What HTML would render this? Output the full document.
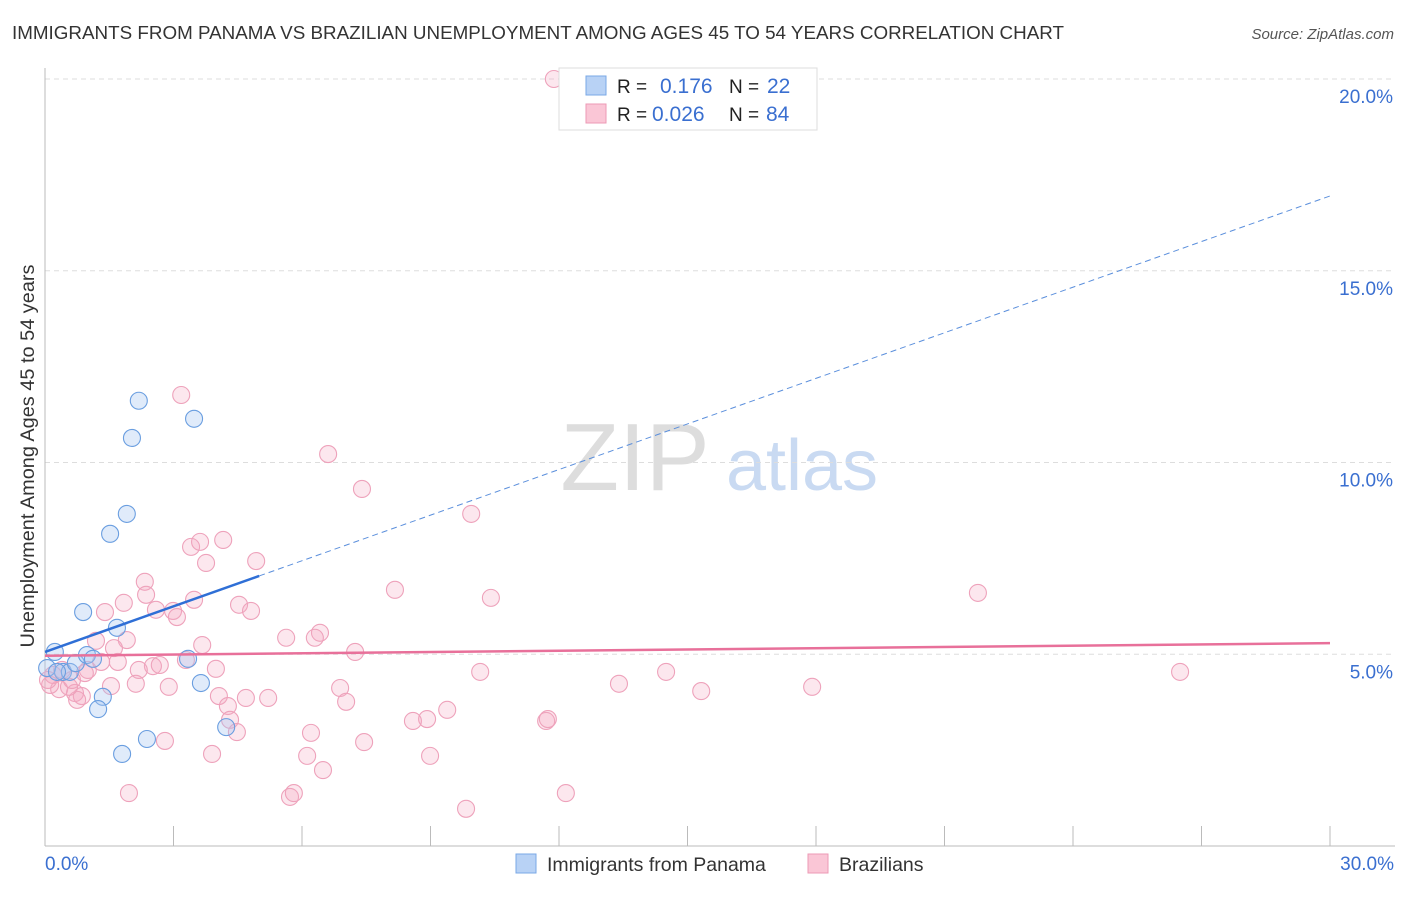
<!DOCTYPE html>
<html><head><meta charset="utf-8"><style>
body{margin:0;background:#fff;font-family:"Liberation Sans",sans-serif}
svg text{font-family:"Liberation Sans",sans-serif}
</style></head><body>
<svg id="chart" width="1406" height="892" xmlns="http://www.w3.org/2000/svg">
<text x="12" y="39" font-size="18.8" fill="#333" textLength="1052" lengthAdjust="spacingAndGlyphs">IMMIGRANTS FROM PANAMA VS BRAZILIAN UNEMPLOYMENT AMONG AGES 45 TO 54 YEARS CORRELATION CHART</text>
<text x="1394" y="39" font-size="15" fill="#555" font-style="italic" text-anchor="end">Source: ZipAtlas.com</text>
<text transform="translate(34,456) rotate(-90)" font-size="19.5" fill="#333" text-anchor="middle" textLength="383" lengthAdjust="spacingAndGlyphs">Unemployment Among Ages 45 to 54 years</text>
<g><text x="635" y="490" font-size="96" fill="#ddd" font-family="Liberation Serif" text-anchor="middle">ZIP</text><text x="802" y="490" font-size="72" fill="#c9daf2" text-anchor="middle">atlas</text></g>
<g id="grid"></g><g id="axes"></g><g id="pts"></g><g id="trend"></g>
<g>
<rect x="559" y="68" width="258" height="62" fill="#fff" stroke="#ddd"/>
<rect x="586" y="76" width="20" height="19" fill="#b8d2f5" stroke="#7aa8e6"/>
<rect x="586" y="104" width="20" height="19" fill="#fac6d6" stroke="#ec9ab5"/>
<text x="617" y="93" font-size="19" fill="#222">R = </text><text x="660" y="93" font-size="21" fill="#3a6fd0">0.176</text>
<text x="729" y="93" font-size="19" fill="#222">N = </text><text x="767" y="93" font-size="21" fill="#3a6fd0">22</text>
<text x="617" y="121" font-size="19" fill="#222">R = </text><text x="652" y="121" font-size="21" fill="#3a6fd0">0.026</text>
<text x="729" y="121" font-size="19" fill="#222">N = </text><text x="766" y="121" font-size="21" fill="#3a6fd0">84</text>
</g>
<g>
<rect x="516" y="854" width="20" height="19" fill="#b8d2f5" stroke="#7aa8e6"/>
<text x="547" y="871" font-size="19.5" fill="#333">Immigrants from Panama</text>
<rect x="808" y="854" width="20" height="19" fill="#fac6d6" stroke="#ec9ab5"/>
<text x="839" y="871" font-size="19.5" fill="#333">Brazilians</text>
</g>
</svg>
<script>
const yTicks=[5,10,15,20];
const yTickLabels=["5.0%","10.0%","15.0%","20.0%"];
const xTickLabels=["0.0%","30.0%"];
const panamaX=[0.23,0.05,0.42,0.58,0.72,0.98,1.12,1.68,0.89,1.35,1.24,1.52,1.91,2.03,2.19,3.48,3.34,3.64,2.38,1.80,4.23,0.28];
const panamaY=[5.06,4.64,4.54,4.54,4.77,4.98,4.88,5.69,6.10,3.89,3.57,8.14,8.66,10.64,11.61,11.14,4.88,4.25,2.79,2.40,3.10,4.54];
const brazilX=[11.88,3.18,6.61,7.40,9.95,3.41,3.62,4.16,4.93,3.76,2.33,8.17,10.41,21.78,2.36,1.84,3.48,1.40,2.59,2.99,3.08,4.53,4.81,1.19,1.91,1.61,6.42,5.63,6.30,3.67,7.24,1.70,1.31,1.00,2.52,2.68,3.29,3.99,2.19,10.16,14.50,26.50,13.40,15.32,17.91,2.12,2.89,1.54,6.89,4.06,4.69,5.21,7.03,4.27,0.70,0.86,0.75,0.33,0.12,0.56,0.19,0.93,9.39,8.92,8.59,11.70,11.74,4.32,4.48,6.21,7.45,2.80,6.12,3.90,8.99,6.49,1.96,5.72,5.81,9.83,12.16,0.40,0.07,0.63];
const brazilY=[20.0,11.76,10.22,9.31,8.66,7.80,7.93,7.98,7.43,7.38,6.89,6.68,6.47,6.60,6.55,6.34,6.42,6.10,6.16,6.13,5.97,6.29,6.13,5.35,5.37,5.16,5.56,5.43,5.43,5.24,5.06,4.80,4.80,4.59,4.69,4.72,4.85,4.62,4.59,4.54,4.54,4.54,4.23,4.04,4.15,4.23,4.15,4.17,4.12,3.91,3.86,3.86,3.76,3.65,3.99,3.91,3.81,4.09,4.20,4.15,4.46,4.51,3.55,3.31,3.26,3.26,3.31,3.29,2.97,2.95,2.71,2.74,2.35,2.40,2.35,1.98,1.38,1.28,1.38,0.97,1.38,4.59,4.33,4.33];
const panamaTrend=[5.06,16.95];
const brazilTrend=[4.96,5.29];
const NS="http://www.w3.org/2000/svg";
const X0=45,X1=1330,Y0=846,Y20=79;
const sx=v=>X0+(X1-X0)*v/30;
const sy=v=>Y0-(Y0-Y20)*v/20;
function mk(tag,attrs,parent){const e=document.createElementNS(NS,tag);for(const k in attrs)e.setAttribute(k,attrs[k]);document.getElementById(parent).appendChild(e);return e;}
yTicks.forEach((t,i)=>{
 const g=mk('line',{x1:X0,x2:1395,y1:sy(t),y2:sy(t),stroke:'#ddd','stroke-dasharray':'5,4'},'grid');
 
 
 const l=mk('text',{x:1393,y:sy(t)+24,'font-size':19,fill:'#3a6fd0','text-anchor':'end'},'grid');
 l.textContent=yTickLabels[i];
 
 
});
const ax=mk('line',{x1:X0,x2:1395,y1:Y0,y2:Y0,stroke:'#bbb'},'axes');


const ay=mk('line',{x1:X0,x2:X0,y1:68,y2:Y0,stroke:'#bbb'},'axes');


for(let i=0;i<=10;i++){const t=mk('line',{x1:sx(i*3),x2:sx(i*3),y1:826,y2:Y0,stroke:'#bbb'},'axes');
 
 }
[[0,'start',45],[30,'end',1394]].forEach((d,i)=>{const t=mk('text',{x:d[2],y:870,'font-size':19,fill:'#3a6fd0','text-anchor':d[1]},'axes');t.textContent=xTickLabels[i];
 
 });
brazilX.forEach((x,i)=>{const c=mk('circle',{cx:sx(x),cy:sy(brazilY[i]),r:8.5,fill:'rgba(245,170,195,0.28)',stroke:'#eea2bb','stroke-width':1.1},'pts');
 
 });
panamaX.forEach((x,i)=>{const c=mk('circle',{cx:sx(x),cy:sy(panamaY[i]),r:8.5,fill:'rgba(165,198,240,0.35)',stroke:'#6a9ee0','stroke-width':1.1},'pts');
 
 });
const py=x=>panamaTrend[0]+(panamaTrend[1]-panamaTrend[0])*x/30;
const l1=mk('line',{x1:sx(0),y1:sy(py(0)),x2:sx(5),y2:sy(py(5)),stroke:'#2f6fd6','stroke-width':2.5},'trend');


const l2=mk('line',{x1:sx(5),y1:sy(py(5)),x2:sx(30),y2:sy(py(30)),stroke:'#5b8fdc','stroke-width':1,'stroke-dasharray':'6,4'},'trend');


const l3=mk('line',{x1:sx(0),y1:sy(brazilTrend[0]),x2:sx(30),y2:sy(brazilTrend[1]),stroke:'#e8709a','stroke-width':2.5},'trend');


</script>
</body></html>
